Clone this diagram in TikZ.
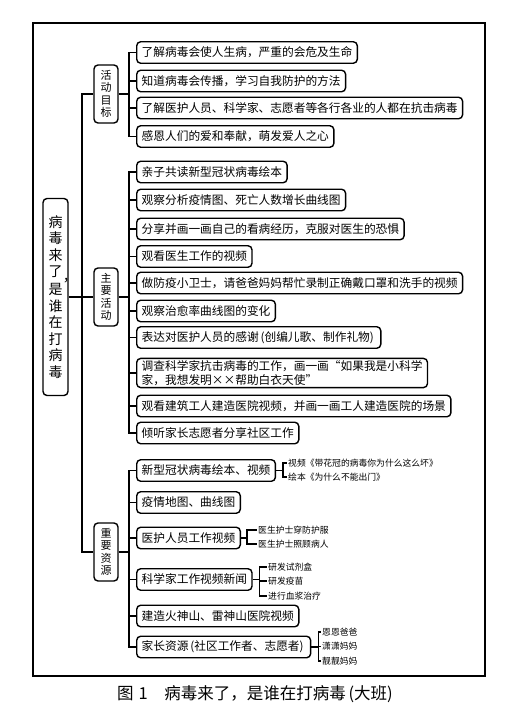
\documentclass[tikz,border=0pt]{standalone}
\usepackage{fontspec}
\setmainfont{Noto Sans CJK SC}
\usetikzlibrary{calc,positioning}

\tikzset{
  box/.style={draw,line width=1.4pt,rounded corners=4pt,fill=white,anchor=west,
    inner xsep=5pt,inner ysep=2pt,minimum height=21.5pt,font=\fontsize{11.7}{14}\selectfont},
  cat/.style={draw,line width=1.4pt,rounded corners=4pt,fill=white,minimum width=24pt,
    minimum height=58pt,inner sep=1pt,align=center,font=\fontsize{11}{12.5}\selectfont},
  subitem/.style={anchor=west,inner sep=1pt,font=\fontsize{8.8}{10}\selectfont},
  link/.style={line width=1.3pt},
}

\begin{document}
\begin{tikzpicture}[x=1pt,y=-1pt]
  \useasboundingbox (0,0) rectangle (513,719);
  \draw[line width=1.4pt] (33,23) rectangle (485,676);

  % root and the three groups
  \node[cat,minimum width=25pt,minimum height=197pt,font=\fontsize{14}{16.5}\selectfont] (root) at (55.5,297)
    {病\\毒\\来\\了\rlap{\hspace{0.02em}\raisebox{-0.3em}{，}}\\是\\谁\\在\\打\\病\\毒};
  \node[cat] (goal) at (106,94) {活\\动\\目\\标};
  \node[cat] (main) at (106,297) {主\\要\\活\\动};
  \node[cat] (res) at (106,552) {重\\要\\资\\源};
  \coordinate (trunk) at (82,297);
  \draw[link] (root.east) -- (main.west);
  \draw[link] (trunk) |- (goal.west);
  \draw[link] (trunk) |- (res.west);

  % 活动目标
  \node[box] (g1) at (136,52.5) {了解病毒会使人生病，严重的会危及生命};
  \node[box] (g2) at (136,81) {知道病毒会传播，学习自我防护的方法};
  \node[box] (g3) at (136,108) {了解医护人员、科学家、志愿者等各行各业的人都在抗击病毒};
  \node[box] (g4) at (136,136.5) {感恩人们的爱和奉献，萌发爱人之心};
  \coordinate (gb) at (129,94);
  \draw[link] (goal.east) -- (gb);
  \foreach \n in {g1,g2,g3,g4} \draw[link] (gb) |- (\n.west);

  % 主要活动
  \node[box] (m1) at (136,172) {亲子共读新型冠状病毒绘本};
  \node[box] (m2) at (136,200) {观察分析疫情图、死亡人数增长曲线图};
  \node[box] (m3) at (136,229) {分享并画一画自己的看病经历，克服对医生的恐惧};
  \node[box] (m4) at (136,256.5) {观看医生工作的视频};
  \node[box] (m5) at (136,283) {做防疫小卫士，请爸爸妈妈帮忙录制正确戴口罩和洗手的视频};
  \node[box] (m6) at (136,311) {观察治愈率曲线图的变化};
  \node[box] (m7) at (136,337.5) {表达对医护人员的感谢\,(创编儿歌、制作礼物)\,};
  \node[box,align=left] (m8) at (136,373)
    {调查科学家抗击病毒的工作，画一画“如果我是小科学\\家，我想发明××帮助白衣天使”};
  \node[box] (m9) at (136,406) {观看建筑工人建造医院视频，并画一画工人建造医院的场景};
  \node[box] (m10) at (136,433) {倾听家长志愿者分享社区工作};
  \coordinate (mb) at (129,297);
  \draw[link] (main.east) -- (mb);
  \foreach \n in {m1,m2,m3,m4,m5,m6,m7,m8,m9,m10} \draw[link] (mb) |- (\n.west);

  % 重要资源
  \node[box] (r1) at (136,470.5) {新型冠状病毒绘本、视频};
  \node[box] (r2) at (136,502.5) {疫情地图、曲线图};
  \node[box] (r3) at (136,538) {医护人员工作视频};
  \node[box] (r4) at (136,579.5) {科学家工作视频新闻};
  \node[box] (r5) at (136,616) {建造火神山、雷神山医院视频};
  \node[box] (r6) at (136,647) {家长资源\,(社区工作者、志愿者)\,};
  \coordinate (rb) at (129,552);
  \draw[link] (res.east) -- (rb);
  \foreach \n in {r1,r2,r3,r4,r5,r6} \draw[link] (rb) |- (\n.west);

  % sub items
  \node[subitem] (r1a) at (287,463) {视频《带花冠的病毒你为什么这么坏》};
  \node[subitem] (r1b) at (287,477) {绘本《为什么不能出门》};
  \node[subitem] (r3a) at (257,530) {医生护士穿防护服};
  \node[subitem] (r3b) at (257,544) {医生护士照顾病人};
  \node[subitem] (r4a) at (267,567) {研发试剂盒};
  \node[subitem] (r4b) at (267,581) {研发疫苗};
  \node[subitem] (r4c) at (267,596) {进行血浆治疗};
  \node[subitem] (r6a) at (321,632) {恩恩爸爸};
  \node[subitem] (r6b) at (321,646.5) {潇潇妈妈};
  \node[subitem] (r6c) at (321,661) {靓靓妈妈};
  \draw[link] (r1.east) -- ++(7,0) coordinate (b1);
  \draw[link] (r3.east) -- ++(6,0) coordinate (b3);
  \draw[link] (r4.east) -- ++(7,0) coordinate (b4);
  \draw[link] (r6.east) -- ++(7,0) coordinate (b6);
  \foreach \b/\n in {b1/r1a,b1/r1b,b3/r3a,b3/r3b,b4/r4a,b4/r4b,b4/r4c,b6/r6a,b6/r6b,b6/r6c}
    \draw[link] (\b) |- (\n.west);

  \node[anchor=west,inner sep=0pt,font=\fontsize{16.5}{18}\selectfont] (cap) at (117,694)
    {图\hspace{0.3em}1\hspace{1em}病毒来了，是谁在打病毒\,(大班)};
\end{tikzpicture}
\end{document}
